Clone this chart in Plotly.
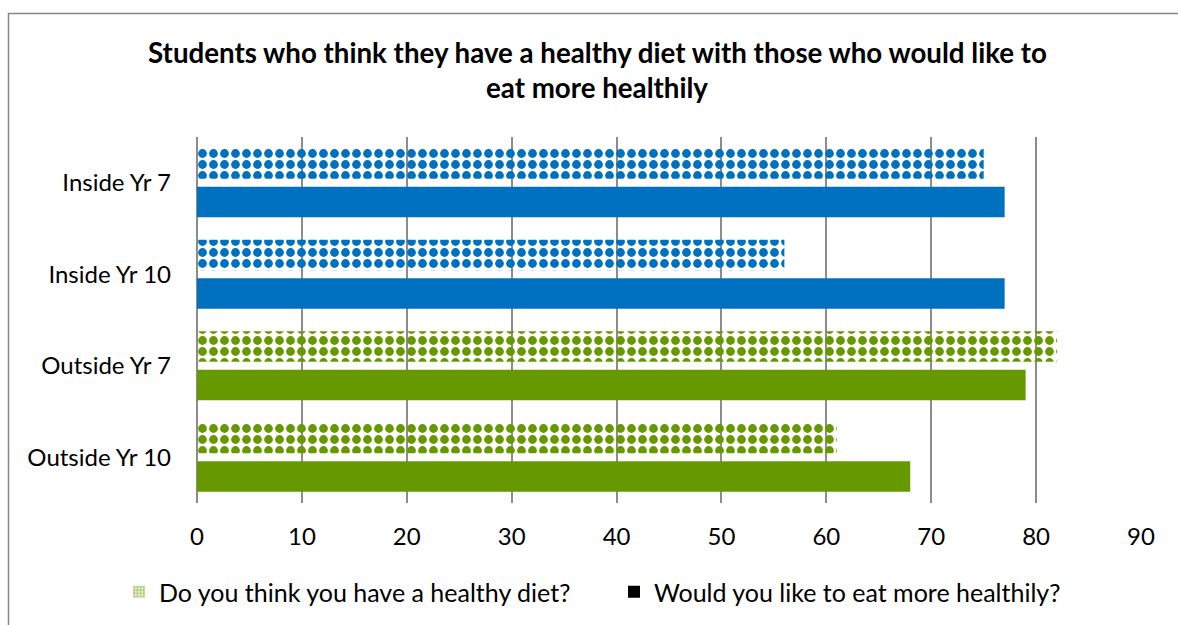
import plotly.graph_objects as go

categories = ["Inside Yr 7", "Inside Yr 10", "Outside Yr 7", "Outside Yr 10"]
healthy_diet = [75, 56, 82, 61]
eat_more_healthily = [77, 77, 79, 68]
series_names = ["Do you think you have a healthy diet?", "Would you like to eat more healthily?"]
x_ticks = [0, 10, 20, 30, 40, 50, 60, 70, 80, 90]

BLUE = "#0070C0"
GREEN = "#669900"
bar_colors = [BLUE, BLUE, GREEN, GREEN]
FONT = "Lato"
GRID = "#8C8C8C"

fig = go.Figure()
fig.add_trace(go.Bar(
    y=categories, x=healthy_diet, orientation="h", name=series_names[0],
    offsetgroup="a", showlegend=False,
    marker=dict(color=bar_colors, line=dict(width=0),
                pattern=dict(shape=".", fgcolor=bar_colors, bgcolor="white",
                             size=11, solidity=0.5, fillmode="replace")),
))
fig.add_trace(go.Bar(
    y=categories, x=eat_more_healthily, orientation="h", name=series_names[1],
    offsetgroup="b", showlegend=False,
    marker=dict(color=bar_colors, line=dict(width=0)),
))
# legend entries
fig.add_trace(go.Bar(
    y=[None], x=[None], orientation="h", name=series_names[0], offsetgroup="a",
    marker=dict(color=GREEN, line=dict(width=0),
                pattern=dict(shape=".", fgcolor=GREEN, bgcolor="white",
                             size=4, solidity=0.7)),
))
fig.add_trace(go.Bar(
    y=[None], x=[None], orientation="h", name=series_names[1], offsetgroup="b",
    marker=dict(color="black", line=dict(width=0)),
))

fig.update_layout(
    width=1178, height=625,
    margin=dict(l=197, r=37, t=137, b=122, autoexpand=False),
    paper_bgcolor="white", plot_bgcolor="white",
    font=dict(family=FONT, size=24, color="black"),
    barmode="group", bargap=0.16, bargroupgap=0.21,
    xaxis=dict(range=[0, 90], tickvals=x_ticks, showgrid=True, gridcolor=GRID,
               gridwidth=2, zeroline=True, zerolinecolor=GRID, zerolinewidth=2,
               showline=False, ticks="", ticklabelstandoff=17,
               tickfont=dict(family=FONT, size=24, color="black")),
    yaxis=dict(autorange="reversed", showgrid=False, zeroline=False, ticks="",
               ticklabelstandoff=25,
               tickfont=dict(family=FONT, size=24, color="black")),
    legend=dict(orientation="h", x=(119 - 197) / 944, xanchor="left",
                y=(503 - 569) / 366, yanchor="top", traceorder="normal",
                entrywidth=450, font=dict(family=FONT, size=25, color="black"),
                bgcolor="rgba(0,0,0,0)"),
    showlegend=True,
)

TITLE_FONT = dict(family=FONT, size=27.7, color="black")
fig.add_annotation(text="<b>Students who think they have a healthy diet with those who would like to</b>",
                   xref="paper", yref="paper", x=(597 - 197) / 944, y=(503 - 52) / 366,
                   xanchor="center", yanchor="middle", showarrow=False, font=TITLE_FONT)
fig.add_annotation(text="<b>eat more healthily</b>",
                   xref="paper", yref="paper", x=(597 - 197) / 944, y=(503 - 88) / 366,
                   xanchor="center", yanchor="middle", showarrow=False, font=TITLE_FONT)

fig.add_shape(type="rect", xref="paper", yref="paper",
              x0=(8.5 - 197) / 944, x1=1.2, y0=-0.5, y1=(503 - 13.5) / 366,
              line=dict(color="#868686", width=1.5), fillcolor="rgba(0,0,0,0)",
              layer="below")

fig.write_html("out.html")
